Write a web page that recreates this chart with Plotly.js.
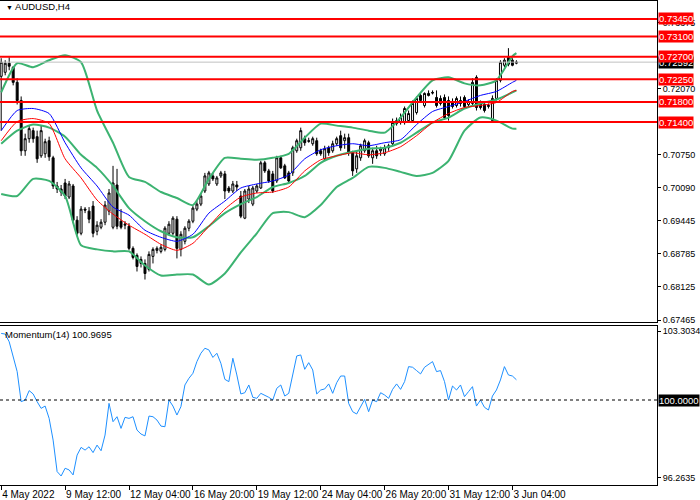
<!DOCTYPE html>
<html>
<head>
<meta charset="utf-8">
<script src="https://cdn.plot.ly/plotly-3.0.1.min.js"></script>
<style>
  html, body { margin: 0; padding: 0; background: #fff; }
  #chart { width: 700px; height: 500px; }
</style>
</head>
<body>
<div id="chart"></div>
<script>
// AUDUSD H4 candles (bar 0 = 4 May 20:00)
const open = [
  0.7231,0.7239,0.7257,0.7249,0.7219,0.7183,0.7083,0.7107,0.7123,0.7111,
  0.7073,0.7077,0.7103,0.7069,0.7013,0.7007,0.7019,0.6991,0.7013,0.6945,
  0.6919,0.6967,0.6963,0.6973,0.6923,0.6931,0.6941,0.6963,0.6931,0.7015,
  0.6943,0.6935,0.6933,0.6889,0.6875,0.6867,0.6859,0.6847,0.6873,0.6885,
  0.6883,0.6887,0.6919,0.6919,0.6947,0.6887,0.6903,0.6929,0.6943,0.6967,
  0.6977,0.7003,0.7017,0.7033,0.7017,0.7033,0.7037,0.7009,0.7003,0.7015,
  0.6993,0.6949,0.6987,0.6977,0.7003,0.7009,0.7059,0.7043,0.7037,0.7023,
  0.7069,0.7053,0.7039,0.7039,0.7083,0.7089,0.7107,0.7103,0.7097,0.7103,
  0.7083,0.7067,0.7089,0.7083,0.7097,0.7113,0.7103,0.7109,0.7079,0.7047,
  0.7069,0.7083,0.7099,0.7069,0.7083,0.7083,0.7077,0.7089,0.7097,0.7137,
  0.7139,0.7139,0.7143,0.7143,0.7159,0.7193,0.7173,0.7197,0.7199,0.7189,
  0.7187,0.7189,0.7183,0.7181,0.7173,0.7183,0.7189,0.7175,0.7177,0.7229,
  0.7177,0.7175,0.7171,0.7143,0.7187,0.7223,0.7253,0.7269,0.7263,0.7257
];
const high = [
  0.7267,0.7263,0.7269,0.7251,0.7227,0.7191,0.7117,0.7133,0.7129,0.7123,
  0.7133,0.7107,0.7111,0.7073,0.7021,0.7015,0.7027,0.7023,0.7017,0.6953,
  0.6973,0.6971,0.6971,0.6983,0.6943,0.6947,0.6983,0.7007,0.7053,0.7047,
  0.6967,0.6943,0.6939,0.6893,0.6879,0.6873,0.6867,0.6883,0.6891,0.6893,
  0.6897,0.6933,0.6943,0.6953,0.6953,0.6923,0.6933,0.6947,0.6973,0.6983,
  0.6997,0.7039,0.7043,0.7039,0.7033,0.7043,0.7043,0.7013,0.7023,0.7023,
  0.7003,0.7007,0.7013,0.7013,0.7017,0.7063,0.7063,0.7047,0.7043,0.7073,
  0.7073,0.7057,0.7043,0.7093,0.7107,0.7129,0.7113,0.7109,0.7111,0.7109,
  0.7087,0.7093,0.7093,0.7103,0.7111,0.7123,0.7117,0.7117,0.7083,0.7083,
  0.7097,0.7107,0.7103,0.7089,0.7093,0.7091,0.7095,0.7097,0.7147,0.7149,
  0.7157,0.7171,0.7163,0.7183,0.7191,0.7197,0.7199,0.7203,0.7203,0.7203,
  0.7193,0.7195,0.7191,0.7187,0.7191,0.7191,0.7193,0.7185,0.7227,0.7233,
  0.7183,0.7179,0.7177,0.7193,0.7227,0.7263,0.7267,0.7287,0.7267,0.7263
];
const low = [
  0.7123,0.7233,0.7243,0.7213,0.7175,0.7073,0.7073,0.7099,0.7099,0.7059,
  0.7069,0.7069,0.7063,0.7007,0.6999,0.6993,0.6987,0.6987,0.6939,0.6913,
  0.6915,0.6959,0.6939,0.6911,0.6915,0.6927,0.6935,0.6955,0.6927,0.6927,
  0.6927,0.6927,0.6885,0.6867,0.6843,0.6851,0.6827,0.6843,0.6859,0.6879,
  0.6879,0.6883,0.6915,0.6915,0.6869,0.6873,0.6897,0.6923,0.6939,0.6963,
  0.6973,0.6999,0.7013,0.7023,0.7013,0.7029,0.6987,0.6999,0.6999,0.7003,
  0.6949,0.6947,0.6979,0.6973,0.6999,0.7007,0.7039,0.7019,0.6999,0.7019,
  0.7047,0.7027,0.7019,0.7033,0.7079,0.7083,0.7093,0.7099,0.7093,0.7073,
  0.7073,0.7063,0.7073,0.7079,0.7093,0.7083,0.7087,0.7073,0.7033,0.7039,
  0.7063,0.7079,0.7069,0.7057,0.7067,0.7073,0.7073,0.7083,0.7093,0.7133,
  0.7135,0.7135,0.7139,0.7139,0.7155,0.7179,0.7169,0.7191,0.7195,0.7169,
  0.7173,0.7145,0.7143,0.7167,0.7169,0.7171,0.7167,0.7171,0.7173,0.7163,
  0.7165,0.7159,0.7167,0.7139,0.7183,0.7219,0.7249,0.7251,0.7251,0.7255
];
const close = [
  0.7259,0.7257,0.7251,0.7219,0.7183,0.7083,0.7107,0.7127,0.7107,0.7067,
  0.7123,0.7101,0.7071,0.7013,0.7007,0.7001,0.6993,0.7017,0.6945,0.6919,
  0.6967,0.6965,0.6947,0.6919,0.6935,0.6941,0.6975,0.6999,0.7019,0.6933,
  0.6931,0.6937,0.6889,0.6871,0.6853,0.6859,0.6839,0.6877,0.6887,0.6889,
  0.6891,0.6929,0.6937,0.6949,0.6889,0.6917,0.6929,0.6943,0.6969,0.6977,
  0.6993,0.7033,0.7039,0.7027,0.7029,0.7039,0.7003,0.7003,0.7017,0.7011,
  0.6953,0.7003,0.7007,0.7009,0.7013,0.7059,0.7043,0.7023,0.7003,0.7069,
  0.7049,0.7029,0.7023,0.7089,0.7103,0.7123,0.7099,0.7102,0.7107,0.7077,
  0.7077,0.7087,0.7079,0.7097,0.7107,0.7089,0.7109,0.7079,0.7043,0.7073,
  0.7093,0.7103,0.7073,0.7083,0.7073,0.7087,0.7089,0.7093,0.7139,0.7143,
  0.7149,0.7167,0.7157,0.7177,0.7187,0.7183,0.7197,0.7193,0.7198,0.7173,
  0.7177,0.7149,0.7153,0.7171,0.7187,0.7177,0.7171,0.7181,0.7219,0.7169,
  0.7169,0.7163,0.7173,0.7187,0.7223,0.7259,0.7263,0.7255,0.7253,0.72592
];

// Bollinger bands and the two moving averages, read every 4th bar
const indIdx  = [0,4,8,12,16,20,24,28,32,36,40,44,48,52,56,60,64,68,72,76,80,84,88,92,96,100,104,108,112,116,120,124,128,129];
const bbUpper = [0.7199,0.7257,0.7249,0.7263,0.7273,0.7259,0.7163,0.7099,0.7031,0.7021,0.7001,0.6989,0.6975,0.7027,0.7069,0.7067,0.7065,0.7069,0.7077,0.7109,0.7137,0.7133,0.7129,0.7123,0.7119,0.7149,0.7189,0.7223,0.7229,0.7217,0.7213,0.7223,0.7271,0.7277];
const bbMid   = [0.7097,0.7123,0.7135,0.7129,0.7111,0.7075,0.7049,0.7013,0.6969,0.6943,0.6923,0.6911,0.6911,0.6933,0.6959,0.6977,0.6991,0.7011,0.7019,0.7033,0.7059,0.7073,0.7081,0.7087,0.7089,0.7099,0.7119,0.7139,0.7149,0.7167,0.7177,0.7185,0.7199,0.7203];
const bbLower = [0.6997,0.6993,0.7027,0.7023,0.6993,0.6895,0.6887,0.6883,0.6883,0.6855,0.6835,0.6837,0.6837,0.6817,0.6839,0.6881,0.6919,0.6959,0.6961,0.6951,0.6975,0.7011,0.7029,0.7051,0.7049,0.7041,0.7033,0.7039,0.7063,0.7123,0.7149,0.7143,0.7127,0.7127];
const maBlue  = [0.7123,0.7163,0.7167,0.7157,0.7099,0.7049,0.7013,0.6971,0.6955,0.6925,0.6911,0.6903,0.6917,0.6959,0.6983,0.7009,0.7017,0.7023,0.7035,0.7067,0.7085,0.7093,0.7097,0.7093,0.7099,0.7105,0.7135,0.7161,0.7171,0.7181,0.7193,0.7201,0.7219,0.7223];
const maRed   = [0.7103,0.7141,0.7147,0.7137,0.7067,0.7029,0.6985,0.6957,0.6935,0.6917,0.6897,0.6885,0.6899,0.6933,0.6967,0.6991,0.6999,0.7001,0.7011,0.7043,0.7065,0.7073,0.7079,0.7075,0.7079,0.7091,0.7113,0.7139,0.7157,0.7169,0.7173,0.7179,0.7201,0.7203];

// Momentum(14), one value per bar
const momentum = [
  103.19,103.16,102.79,102.08,101.36,99.92,100.00,100.45,100.29,99.92,
  99.60,99.71,99.12,98.08,96.57,96.36,96.73,96.65,96.41,97.36,
  97.73,97.60,97.76,97.48,97.84,97.57,98.32,99.84,98.96,99.20,
  98.64,99.17,99.12,99.20,98.56,98.37,98.28,99.23,99.20,99.04,
  98.75,98.72,100.00,99.71,99.28,99.68,100.72,101.04,101.28,101.84,
  102.24,102.48,102.40,102.04,102.24,101.76,100.99,100.88,102.00,101.20,
  100.29,100.35,100.72,100.13,100.08,100.32,100.24,100.13,100.00,100.56,
  100.72,100.19,100.32,101.28,102.11,102.16,101.47,101.79,101.44,100.29,
  100.48,100.53,100.77,100.32,100.83,101.15,101.15,99.84,99.44,99.33,
  99.68,100.03,99.44,100.00,99.92,100.35,100.24,100.08,100.51,100.77,
  100.51,100.88,101.60,101.57,101.41,101.25,101.57,101.72,101.84,101.36,
  101.41,100.88,100.00,100.67,100.48,100.72,100.16,100.40,100.64,99.71,
  100.00,99.65,99.52,100.19,100.48,100.96,101.60,101.20,101.15,100.97
];

const levels = [0.73450, 0.73100, 0.72700, 0.72250, 0.71800, 0.71400];
const bid = 0.72592;
const momLast = '100.9695';
const priceTicks = [0.67465, 0.68125, 0.68785, 0.69445, 0.70090, 0.70750, 0.72070, 0.73375];
const momTicks = [96.2635, 103.3034];
const timeIdx = [0, 16, 32, 48, 64, 80, 96, 112, 128];
const timeText = ['4 May 2022', '9 May 12:00', '12 May 04:00', '16 May 20:00', '19 May 12:00',
                  '24 May 04:00', '26 May 20:00', '31 May 12:00', '3 Jun 04:00'];

const barIdx = close.map((_, i) => i);
const FONT = '"Liberation Sans", Arial, sans-serif';
const GREEN = '#3cb371';

function line(y, color, width) {
    return { type: 'scatter', mode: 'lines', x: indIdx, y: y, xaxis: 'x', yaxis: 'y',
             line: { color: color, width: width, shape: 'spline', smoothing: 0.6 }, hoverinfo: 'skip' };
}

const traces = [
    { type: 'candlestick', x: barIdx, open: open, high: high, low: low, close: close,
      xaxis: 'x', yaxis: 'y', whiskerwidth: 0, hoverinfo: 'skip',
      increasing: { line: { color: '#000', width: 1 }, fillcolor: '#fff' },
      decreasing: { line: { color: '#000', width: 1 }, fillcolor: '#000' } },
    line(bbUpper, GREEN, 2),
    line(bbMid, GREEN, 2),
    line(bbLower, GREEN, 2),
    line(maRed, '#ff0000', 1),
    line(maBlue, '#0000ff', 1),
    { type: 'scatter', mode: 'lines', x: barIdx, y: momentum, xaxis: 'x2', yaxis: 'y2',
      line: { color: '#1e90ff', width: 1 }, hoverinfo: 'skip' },
];

const frame = { showgrid: false, zeroline: false, showline: true, mirror: true,
                linecolor: '#000', linewidth: 1, tickcolor: '#000' };

const shapes = levels.map(v => ({ type: 'line', xref: 'paper', x0: 0, x1: 1, yref: 'y', y0: v, y1: v,
                                  line: { color: '#ff0000', width: 2 } }));
shapes.unshift({ type: 'line', xref: 'paper', x0: 0, x1: 1, yref: 'y', y0: bid, y1: bid,
                 line: { color: '#c0c0c0', width: 1 } });
shapes.push({ type: 'line', xref: 'paper', x0: 0, x1: 1, yref: 'y2', y0: 100, y1: 100,
              line: { color: '#000', width: 1, dash: '3px,3px' } });

function axisTag(y, yref, text, bg) {
    return { xref: 'paper', x: 1, xanchor: 'left', xshift: 1, yref: yref, y: y, yanchor: 'middle',
             text: text, showarrow: false, bgcolor: bg, borderpad: 0,
             font: { family: FONT, size: 9.5, color: '#fff' } };
}

// bid tag first so the red level tags sit on top of it
const annotations = [
    axisTag(bid, 'y', bid.toFixed(5), '#000'),
    ...levels.map(v => axisTag(v, 'y', v.toFixed(5), '#ff0000')),
    axisTag(100, 'y2', '100.0000', '#000'),
    { xref: 'paper', yref: 'paper', x: 0, y: 1, xanchor: 'left', yanchor: 'top', xshift: 4, yshift: 1,
      text: '<span style="font-size:7px">▼</span> AUDUSD,H4', showarrow: false,
      font: { family: FONT, size: 9.5, color: '#000' } },
    { xref: 'paper', yref: 'paper', x: 0, y: 0.3278, xanchor: 'left', yanchor: 'top', xshift: 3, yshift: -1,
      text: 'Momentum(14) ' + momLast, showarrow: false,
      font: { family: FONT, size: 9.5, color: '#000' } },
];

const layout = {
    width: 700, height: 500,
    margin: { l: 0, r: 43, t: 0, b: 15 },
    paper_bgcolor: '#fff', plot_bgcolor: '#fff',
    showlegend: false, hovermode: false,
    font: { family: FONT, size: 9.5, color: '#000' },
    xaxis: { ...frame, anchor: 'y', range: [-0.3, 164.2], showticklabels: false, ticks: '',
             rangeslider: { visible: false } },
    yaxis: { ...frame, anchor: 'x', domain: [0.336, 0.998], range: [0.67425, 0.73808], side: 'right',
             tickvals: priceTicks, tickformat: '.5f', ticks: 'outside', ticklen: 3,
             tickfont: { family: FONT, size: 9, color: '#000' } },
    xaxis2: { ...frame, anchor: 'y2', matches: 'x', tickvals: timeIdx, ticktext: timeText,
              tickangle: 0, ticks: 'outside', ticklen: 4, ticklabelposition: 'outside right',
              tickfont: { family: FONT, size: 10, color: '#000' } },
    yaxis2: { ...frame, anchor: 'x2', domain: [0, 0.3278], range: [95.928, 103.545], side: 'right',
              tickvals: momTicks, tickformat: '.4f', ticks: 'outside', ticklen: 3,
              tickfont: { family: FONT, size: 9, color: '#000' } },
    shapes: shapes,
    annotations: annotations,
};

Plotly.newPlot('chart', traces, layout, { displayModeBar: false, staticPlot: true });
</script>
</body>
</html>
